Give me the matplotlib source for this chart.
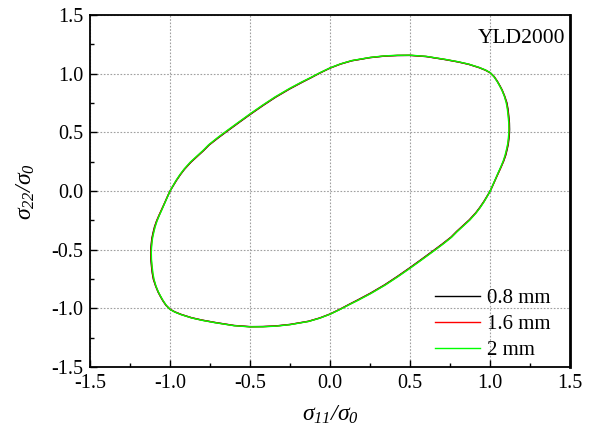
import matplotlib
matplotlib.use("Agg")
import matplotlib.pyplot as plt
from matplotlib.ticker import MultipleLocator

plt.rcParams['font.family'] = ['Liberation Serif', 'DejaVu Serif']
plt.rcParams['mathtext.fontset'] = 'custom'
plt.rcParams['mathtext.rm'] = 'Liberation Serif:style=italic'
plt.rcParams['mathtext.it'] = 'Liberation Serif:style=italic'
plt.rcParams['axes.unicode_minus'] = False

# ---- yield locus points ----
# upper half (counter-clockwise from (1,0) to (-1,0)), lower half continues back to (1,0)
x_up_08 = [1.000, 1.012, 1.025, 1.038, 1.052, 1.068, 1.084, 1.097, 1.106, 1.113, 1.117, 1.120, 1.121,
           1.120, 1.116, 1.111, 1.104, 1.090, 1.075, 1.062, 1.045, 1.025, 1.000, 0.970, 0.930, 0.865,
           0.800, 0.720, 0.600, 0.500, 0.420, 0.340, 0.250, 0.135, 0.065, 0.000, -0.065, -0.120,
           -0.173, -0.250, -0.340, -0.420, -0.500, -0.575, -0.650, -0.700, -0.756, -0.790, -0.830,
           -0.870, -0.910, -0.935, -0.960, -0.980]
y_up_08 = [0.000, 0.035, 0.075, 0.115, 0.157, 0.205, 0.255, 0.305, 0.355, 0.400, 0.445, 0.490, 0.525,
           0.580, 0.640, 0.700, 0.753, 0.810, 0.860, 0.894, 0.935, 0.975, 1.008, 1.030, 1.052, 1.080,
           1.100, 1.120, 1.146, 1.156, 1.155, 1.150, 1.137, 1.110, 1.082, 1.048, 1.005, 0.965,
           0.928, 0.872, 0.800, 0.728, 0.652, 0.578, 0.503, 0.452, 0.392, 0.345, 0.295,
           0.245, 0.185, 0.140, 0.090, 0.045]
x_lo_08 = [-1.000, -1.012, -1.025, -1.038, -1.052, -1.068, -1.084, -1.097, -1.106, -1.113, -1.117, -1.120, -1.121,
           -1.120, -1.116, -1.111, -1.104, -1.090, -1.075, -1.062, -1.045, -1.025, -1.000, -0.970, -0.930, -0.865,
           -0.800, -0.720, -0.600, -0.500, -0.420, -0.340, -0.250, -0.135, -0.065, 0.000, 0.065, 0.120,
           0.173, 0.250, 0.340, 0.420, 0.500, 0.575, 0.650, 0.700, 0.756, 0.790, 0.830,
           0.870, 0.910, 0.935, 0.960, 0.980, 1.000]
y_lo_08 = [0.000, -0.035, -0.075, -0.115, -0.157, -0.205, -0.255, -0.305, -0.355, -0.400, -0.445, -0.490, -0.525,
           -0.580, -0.640, -0.700, -0.753, -0.810, -0.860, -0.894, -0.935, -0.975, -1.008, -1.030, -1.052, -1.080,
           -1.100, -1.120, -1.146, -1.156, -1.155, -1.150, -1.137, -1.110, -1.082, -1.048, -1.005, -0.965,
           -0.928, -0.872, -0.800, -0.728, -0.652, -0.578, -0.503, -0.452, -0.392, -0.345, -0.295,
           -0.245, -0.185, -0.140, -0.090, -0.045, 0.000]

x_up_16 = [1.000, 1.012, 1.025, 1.038, 1.052, 1.068, 1.083, 1.095, 1.104, 1.111, 1.115, 1.118, 1.119,
           1.118, 1.114, 1.109, 1.102, 1.089, 1.074, 1.061, 1.044, 1.024, 1.000, 0.970, 0.930, 0.865,
           0.800, 0.720, 0.600, 0.500, 0.420, 0.340, 0.250, 0.135, 0.065, 0.000, -0.065, -0.121,
           -0.175, -0.252, -0.342, -0.422, -0.502, -0.577, -0.652, -0.702, -0.757, -0.791, -0.831,
           -0.871, -0.911, -0.936, -0.961, -0.981]
y_up_16 = [0.000, 0.035, 0.075, 0.115, 0.157, 0.205, 0.255, 0.305, 0.355, 0.400, 0.445, 0.490, 0.525,
           0.580, 0.640, 0.700, 0.753, 0.810, 0.860, 0.894, 0.935, 0.975, 1.008, 1.031, 1.053, 1.081,
           1.101, 1.121, 1.147, 1.157, 1.156, 1.151, 1.138, 1.111, 1.083, 1.049, 1.006, 0.966,
           0.929, 0.873, 0.801, 0.729, 0.653, 0.579, 0.504, 0.453, 0.393, 0.346, 0.296,
           0.246, 0.186, 0.141, 0.090, 0.045]
x_lo_16 = [-1.000, -1.012, -1.025, -1.038, -1.052, -1.068, -1.083, -1.095, -1.104, -1.111, -1.115, -1.118, -1.119,
           -1.118, -1.114, -1.109, -1.102, -1.089, -1.074, -1.061, -1.044, -1.024, -1.000, -0.970, -0.930, -0.865,
           -0.800, -0.720, -0.600, -0.500, -0.420, -0.340, -0.250, -0.135, -0.065, 0.000, 0.065, 0.121,
           0.175, 0.252, 0.342, 0.422, 0.502, 0.577, 0.652, 0.702, 0.757, 0.791, 0.831,
           0.871, 0.911, 0.936, 0.961, 0.981, 1.000]
y_lo_16 = [0.000, -0.035, -0.075, -0.115, -0.157, -0.205, -0.255, -0.305, -0.355, -0.400, -0.445, -0.490, -0.525,
           -0.580, -0.640, -0.700, -0.753, -0.810, -0.860, -0.894, -0.935, -0.975, -1.008, -1.031, -1.053, -1.081,
           -1.101, -1.121, -1.147, -1.157, -1.156, -1.151, -1.138, -1.111, -1.083, -1.049, -1.006, -0.966,
           -0.929, -0.873, -0.801, -0.729, -0.653, -0.579, -0.504, -0.453, -0.393, -0.346, -0.296,
           -0.246, -0.186, -0.141, -0.090, -0.045, 0.000]

x_up_20 = [1.000, 1.011, 1.024, 1.037, 1.050, 1.066, 1.081, 1.093, 1.102, 1.109, 1.113, 1.116, 1.117,
           1.116, 1.112, 1.107, 1.100, 1.088, 1.073, 1.060, 1.043, 1.023, 1.000, 0.970, 0.930, 0.865,
           0.800, 0.720, 0.600, 0.500, 0.420, 0.340, 0.250, 0.135, 0.065, 0.000, -0.066, -0.122,
           -0.177, -0.254, -0.344, -0.424, -0.504, -0.579, -0.654, -0.704, -0.759, -0.793, -0.833,
           -0.873, -0.912, -0.937, -0.962, -0.981]
y_up_20 = [0.000, 0.035, 0.075, 0.115, 0.157, 0.205, 0.255, 0.305, 0.355, 0.400, 0.445, 0.490, 0.525,
           0.580, 0.640, 0.700, 0.753, 0.810, 0.860, 0.894, 0.935, 0.975, 1.009, 1.032, 1.054, 1.082,
           1.102, 1.122, 1.148, 1.158, 1.157, 1.152, 1.139, 1.112, 1.084, 1.050, 1.007, 0.967,
           0.930, 0.874, 0.802, 0.730, 0.654, 0.580, 0.505, 0.454, 0.394, 0.347, 0.297,
           0.247, 0.187, 0.142, 0.091, 0.046]
x_lo_20 = [-1.000, -1.011, -1.024, -1.037, -1.050, -1.066, -1.081, -1.093, -1.102, -1.109, -1.113, -1.116, -1.117,
           -1.116, -1.112, -1.107, -1.100, -1.088, -1.073, -1.060, -1.043, -1.023, -1.000, -0.970, -0.930, -0.865,
           -0.800, -0.720, -0.600, -0.500, -0.420, -0.340, -0.250, -0.135, -0.065, 0.000, 0.066, 0.122,
           0.177, 0.254, 0.344, 0.424, 0.504, 0.579, 0.654, 0.704, 0.759, 0.793, 0.833,
           0.873, 0.912, 0.937, 0.962, 0.981, 1.000]
y_lo_20 = [0.000, -0.035, -0.075, -0.115, -0.157, -0.205, -0.255, -0.305, -0.355, -0.400, -0.445, -0.490, -0.525,
           -0.580, -0.640, -0.700, -0.753, -0.810, -0.860, -0.894, -0.935, -0.975, -1.009, -1.032, -1.054, -1.082,
           -1.102, -1.122, -1.148, -1.158, -1.157, -1.152, -1.139, -1.112, -1.084, -1.050, -1.007, -0.967,
           -0.930, -0.874, -0.802, -0.730, -0.654, -0.580, -0.505, -0.454, -0.394, -0.347, -0.297,
           -0.247, -0.187, -0.142, -0.091, -0.046, 0.000]

labels = ['0.8 mm', '1.6 mm', '2 mm']
colors = ['black', '#ff0000', '#00ff00']
x_ticks = [-1.5, -1.0, -0.5, 0.0, 0.5, 1.0, 1.5]
y_ticks = [-1.5, -1.0, -0.5, 0.0, 0.5, 1.0, 1.5]

fig = plt.figure(figsize=(5.94, 4.30), dpi=100)
ax = fig.add_axes([0.1515, 0.1465, 0.8085, 0.8185])

series = [(x_up_08 + x_lo_08, y_up_08 + y_lo_08),
          (x_up_16 + x_lo_16, y_up_16 + y_lo_16),
          (x_up_20 + x_lo_20, y_up_20 + y_lo_20)]
for (xs, ys), lab, c in zip(series, labels, colors):
    ax.plot(xs, ys, color=c, lw=1.0, label=lab)

ax.set_xlim(-1.5, 1.5)
ax.set_ylim(-1.5, 1.5)
ax.set_xticks(x_ticks)
ax.set_yticks(y_ticks)
ax.set_xticklabels([f'{v:.1f}' for v in x_ticks])
ax.set_yticklabels([f'{v:.1f}' for v in y_ticks])
ax.xaxis.set_minor_locator(MultipleLocator(0.25))
ax.yaxis.set_minor_locator(MultipleLocator(0.25))
ax.tick_params(which='both', direction='in', top=False, right=False, labelsize=14.5)
ax.tick_params(which='major', length=5, width=1, pad=5)
ax.tick_params(which='minor', length=3, width=1)
ax.grid(True, which='major', color='#a0a0a0', linestyle=(0, (1.5, 1.5)), lw=0.8)
for sp in ax.spines.values():
    sp.set_linewidth(1.3)
ax.spines['right'].set_linewidth(2.0)

ax.set_xlabel(r'$\sigma_{11}/\sigma_{0}$', fontsize=17, labelpad=8)
ax.set_ylabel(r'$\sigma_{22}/\sigma_{0}$', fontsize=17, labelpad=10)
ax.text(0.99, 0.96, 'YLD2000', transform=ax.transAxes, ha='right', va='top', fontsize=15.5)

ax.legend(loc='lower right', frameon=False, fontsize=15, handlelength=2.15,
          handletextpad=0.35, labelspacing=0.3, borderaxespad=0.2,
          bbox_to_anchor=(0.985, -0.016))

fig.savefig('out.png', dpi=100)
